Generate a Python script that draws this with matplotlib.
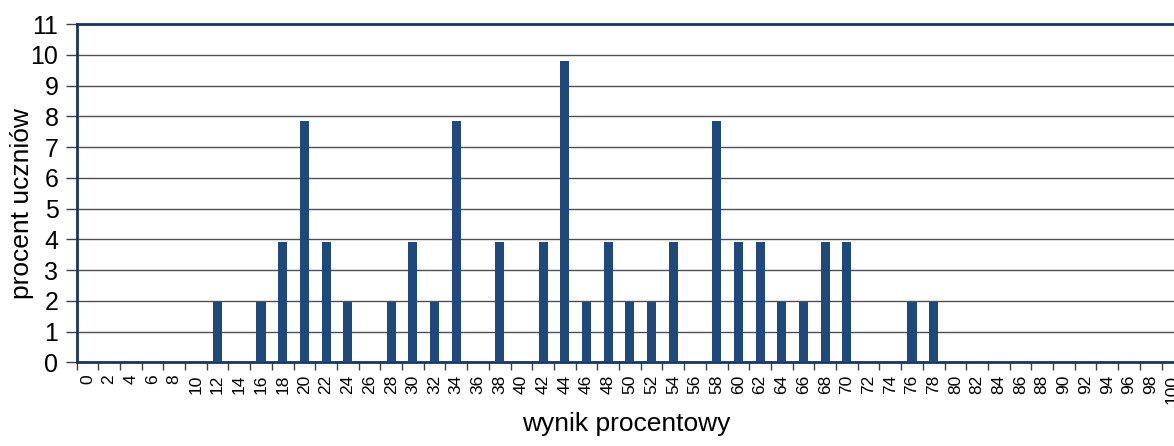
import numpy as np
import matplotlib
matplotlib.use("Agg")
import matplotlib.pyplot as plt

plt.rcParams['font.family'] = ['Liberation Sans', 'DejaVu Sans']

# wynik procentowy (0..100 co 2) i procent uczniow
scores = list(range(0, 101, 2))
nonzero = {12: 1.96, 16: 1.96, 18: 3.92, 20: 7.84, 22: 3.92, 24: 1.96,
           28: 1.96, 30: 3.92, 32: 1.96, 34: 7.84, 38: 3.92, 42: 3.92,
           44: 9.80, 46: 1.96, 48: 3.92, 50: 1.96, 52: 1.96, 54: 3.92,
           58: 7.84, 60: 3.92, 62: 3.92, 64: 1.96, 66: 1.96, 68: 3.92,
           70: 3.92, 76: 1.96, 78: 1.96}
percent = [nonzero.get(s, 0.0) for s in scores]
labels = [str(s) for s in scores]

bar_color = "#1F497D"
axis_color = "#17375E"

fig = plt.figure(figsize=(11.74, 4.46), dpi=100)
ax = fig.add_axes([0.0652, 0.1877, 0.9427, 0.758])

x = np.arange(len(scores))
ax.bar(x, percent, width=0.42, color=bar_color, zorder=3)

ax.set_xlim(-0.5, len(scores) - 0.5)
ax.set_ylim(0, 11)
ax.set_yticks(range(0, 12))
ax.yaxis.grid(True, color="#505050", linewidth=1.0, zorder=0)

ax.set_xticks(x)
ax.set_xticklabels(labels, rotation=90, fontsize=12.5)
ax.set_xticks(np.arange(-0.5, len(scores)), minor=True)
ax.tick_params(axis='x', which='major', length=0, pad=9)
ax.tick_params(axis='x', which='minor', length=6, width=1, color="#404040")
ax.tick_params(axis='y', length=8, width=1, color="#404040", labelsize=18, pad=5)

for side in ['left', 'top', 'bottom', 'right']:
  ax.spines[side].set_color(axis_color)
  ax.spines[side].set_linewidth(2)

ax.set_ylabel("procent uczniów", fontsize=19)
ax.set_xlabel("wynik procentowy", fontsize=19)
ax.yaxis.set_label_coords(-0.0384, 0.469)
ax.xaxis.set_label_coords(0.497, -0.148)

fig.savefig("out.png", dpi=100)
